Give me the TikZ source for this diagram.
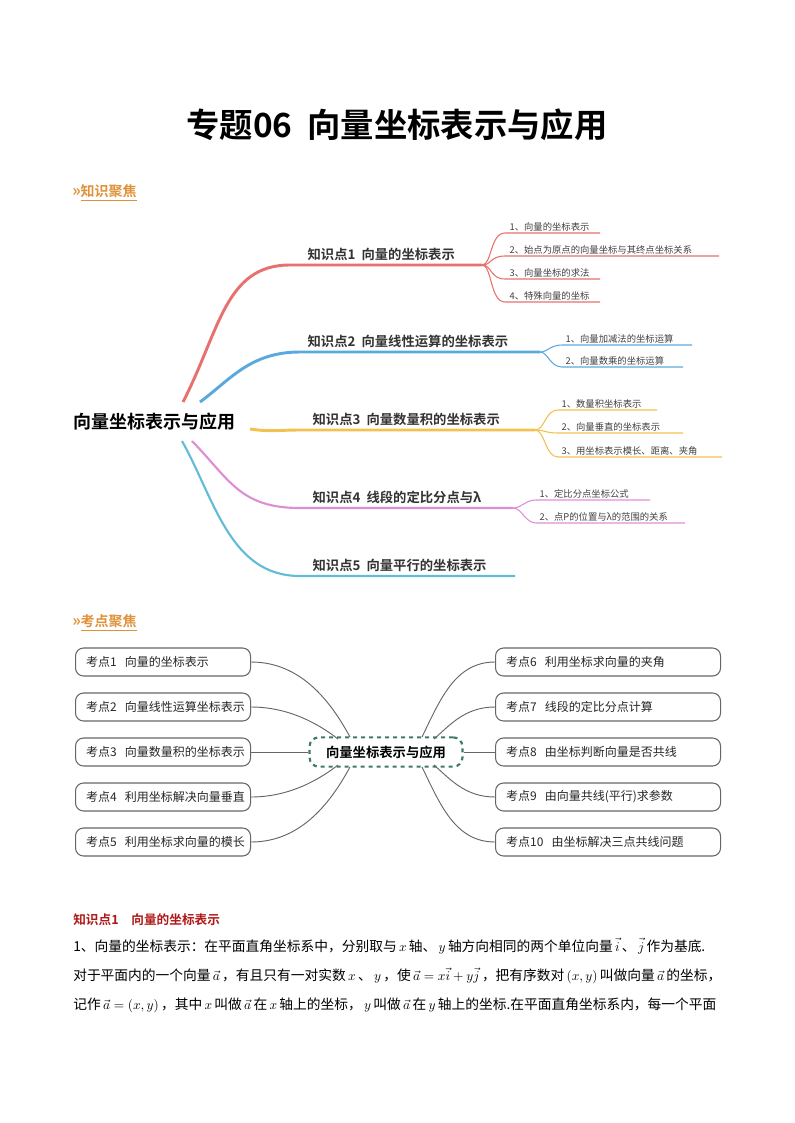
\documentclass[tikz,border=0pt]{standalone}
\usepackage{fontspec}
\setmainfont{Noto Sans CJK SC}
\newfontfamily\cjkb{Noto Sans CJK SC Bold}
\usetikzlibrary{positioning}
\definecolor{kred}{HTML}{E8706E}
\definecolor{kblue}{HTML}{5AA9DC}
\definecolor{kyel}{HTML}{F2C14E}
\definecolor{kpink}{HTML}{DE8FD3}
\definecolor{kcyan}{HTML}{63BCD6}
\definecolor{hdor}{HTML}{E0913A}
\definecolor{dgreen}{HTML}{3E7B62}
\definecolor{dred}{HTML}{B01818}
\tikzset{
  klabel/.style={anchor=south west, inner sep=1pt, font=\cjkb\fontsize{10}{12}\selectfont, text=black!80},
  subitem/.style={anchor=south west, inner sep=1pt, font=\fontsize{7}{8}\selectfont, text=black!75},
  kbox/.style={draw=black!60, line width=0.8pt, rounded corners=6pt, minimum height=21pt, anchor=west, inner xsep=8pt, align=left, font=\fontsize{9}{11}\selectfont, text=black!85},
  link/.style={draw=black!60, line width=0.7pt},
  hdr/.style={anchor=west, inner sep=0pt, text=hdor, font=\cjkb\fontsize{10.5}{12}\selectfont},
  para/.style={anchor=west, inner sep=0pt, font=\fontsize{10.3}{12}\selectfont}
}
\newcommand{\mx}[1]{\,$#1$\,}
\begin{document}
\begin{tikzpicture}[x=0.75pt,y=-0.75pt]
  \useasboundingbox (0,0) rectangle (794,1123);
  % title
  \node (title) at (397,125) {\cjkb\fontsize{25}{30}\selectfont 专题06\ \ 向量坐标表示与应用};
  % section headers
  \node[hdr] (h1) at (72,193) {{\large»}\underline{知识聚焦}};
  \node[hdr] (h2) at (72,623) {{\large»}\underline{考点聚焦}};
  % knowledge mind map
  \node[anchor=west, inner sep=0pt, font=\cjkb\fontsize{13.5}{15}\selectfont] (root) at (73,422) {向量坐标表示与应用};
  \draw[kred, line width=2.2pt] (183,402) .. controls (220,330) and (225,265) .. (290,265) -- (482,265);
  \draw[kblue, line width=2.2pt] (200,402) .. controls (230,380) and (250,352) .. (300,352) -- (540,352);
  \draw[kyel, line width=2.2pt] (250,429) .. controls (270,432) and (280,430) .. (300,430) -- (535,430);
  \draw[kpink, line width=1.6pt] (192,441) .. controls (230,480) and (240,508) .. (300,508) -- (513,508);
  \draw[kcyan, line width=1.6pt] (182,441) .. controls (215,500) and (230,576) .. (300,576) -- (515,576);
  \node[klabel] (k1) at (306,262) {知识点1\ \ 向量的坐标表示};
  \node[klabel] (k2) at (306,349) {知识点2\ \ 向量线性运算的坐标表示};
  \node[klabel] (k3) at (311,427) {知识点3\ \ 向量数量积的坐标表示};
  \node[klabel] (k4) at (311,505) {知识点4\ \ 线段的定比分点与λ};
  \node[klabel] (k5) at (311,573) {知识点5\ \ 向量平行的坐标表示};
  % sub items
  \foreach \y/\e/\t in {233/600/1、向量的坐标表示, 256/719/2、始点为原点的向量坐标与其终点坐标关系, 279/600/3、向量坐标的求法, 302/600/4、特殊向量的坐标}{
    \draw[kred, line width=0.8pt] (482,265) .. controls (492,265) and (490,\y) .. (505,\y) -- (\e,\y);
    \node[subitem] at (508,\y) {\t};}
  \foreach \y/\e/\t in {345/692/1、向量加减法的坐标运算, 367/683/2、向量数乘的坐标运算}{
    \draw[kblue, line width=0.8pt] (540,352) .. controls (548,352) and (550,\y) .. (562,\y) -- (\e,\y);
    \node[subitem] at (564,\y) {\t};}
  \foreach \y/\e/\t in {410/657/1、数量积坐标表示, 433/683/2、向量垂直的坐标表示, 457/722/3、用坐标表示模长、距离、夹角}{
    \draw[kyel, line width=0.8pt] (535,430) .. controls (545,430) and (545,\y) .. (558,\y) -- (\e,\y);
    \node[subitem] at (560,\y) {\t};}
  \foreach \y/\e/\t in {500/650/1、定比分点坐标公式, 523/685/2、点P的位置与λ的范围的关系}{
    \draw[kpink, line width=0.8pt] (513,508) .. controls (522,508) and (525,\y) .. (536,\y) -- (\e,\y);
    \node[subitem] at (538,\y) {\t};}
  % exam point mind map
  \node[draw=dgreen, dashed, line width=1.6pt, rounded corners=7pt, minimum width=153pt*0.75, minimum height=22pt,
        font=\cjkb\fontsize{10}{12}\selectfont] (c) at (386,752) {向量坐标表示与应用};
  \foreach \i/\y/\t in {1/662/向量的坐标表示, 2/707/向量线性运算坐标表示, 3/752/向量数量积的坐标表示, 4/797/利用坐标解决向量垂直, 5/842/利用坐标求向量的模长}{
    \node[kbox, text width=175*0.75pt-16pt] (l\i) at (75,\y) {考点\i~~\t};}
  \foreach \i/\y/\t in {6/662/利用坐标求向量的夹角, 7/707/线段的定比分点计算, 8/752/由坐标判断向量是否共线, 9/797/由向量共线(平行)求参数, 10/842/由坐标解决三点共线问题}{
    \node[kbox, text width=225*0.75pt-16pt] (r\i) at (495,\y) {考点\i~~\t};}
  \draw[link] (l1.east) .. controls (300,662) and (330,700) .. (350,737);
  \draw[link] (l2.east) .. controls (290,707) and (320,725) .. (338,739);
  \draw[link] (l3.east) -- (c.west);
  \draw[link] (l4.east) .. controls (290,797) and (320,779) .. (338,765);
  \draw[link] (l5.east) .. controls (300,842) and (330,804) .. (350,767);
  \draw[link] (r6.west) .. controls (455,662) and (440,700) .. (422,737);
  \draw[link] (r7.west) .. controls (465,707) and (450,725) .. (434,739);
  \draw[link] (r8.west) -- (c.east);
  \draw[link] (r9.west) .. controls (465,797) and (450,779) .. (434,765);
  \draw[link] (r10.west) .. controls (455,842) and (440,804) .. (422,767);
  % text part
  \node[anchor=west, inner sep=0pt, text=dred, font=\cjkb\fontsize{9.5}{11}\selectfont] (s1) at (73,920) {知识点1\quad 向量的坐标表示};
  \node[para] (p1) at (73,946) {1、向量的坐标表示：在平面直角坐标系中，分别取与\mx{x}轴、\mx{y}轴方向相同的两个单位向量\mx{\vec{i}}、\mx{\vec{j}}作为基底.};
  \node[para] (p2) at (73,976) {对于平面内的一个向量\mx{\vec{a}}，有且只有一对实数\mx{x}、\mx{y}，使\mx{\vec{a}=x\vec{i}+y\vec{j}}，把有序数对\mx{(x,y)}叫做向量\mx{\vec{a}}的坐标，};
  \node[para] (p3) at (73,1005) {记作\mx{\vec{a}=(x,y)}，其中\mx{x}叫做\mx{\vec{a}}在\mx{x}轴上的坐标，\mx{y}叫做\mx{\vec{a}}在\mx{y}轴上的坐标.在平面直角坐标系内，每一个平面};
\end{tikzpicture}
\end{document}
